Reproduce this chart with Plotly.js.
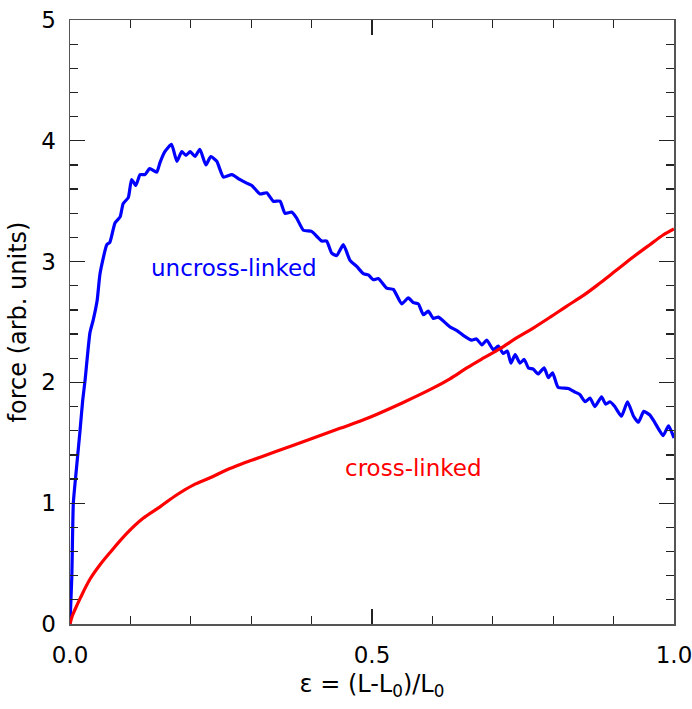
<!DOCTYPE html>
<html>
<head>
<meta charset="utf-8">
<script src="https://cdn.plot.ly/plotly-3.0.1.min.js"></script>
<style>html,body{margin:0;padding:0;background:#fff;}#chart{width:692px;height:709px;}</style>
</head>
<body>
<div id="chart"></div>
<script>
// uncross-linked (blue)
var uncrossStrain = [0, 0.003, 0.0055, 0.0094, 0.0166, 0.021, 0.025, 0.033, 0.0386, 0.045, 0.0497, 0.061, 0.066, 0.0745, 0.083, 0.088, 0.0965, 0.102, 0.109, 0.116, 0.124, 0.132, 0.1435, 0.149, 0.157, 0.168, 0.177, 0.185, 0.192, 0.199, 0.207, 0.215, 0.225, 0.233, 0.243, 0.254, 0.268, 0.281, 0.2925, 0.301, 0.3146, 0.3257, 0.3366, 0.3477, 0.356, 0.367, 0.3753, 0.3863, 0.400, 0.4084, 0.4167, 0.425, 0.4333, 0.4416, 0.4525, 0.4636, 0.4747, 0.4856, 0.4939, 0.5022, 0.5104, 0.5243, 0.5353, 0.5492, 0.5601, 0.5684, 0.5767, 0.585, 0.5932, 0.6015, 0.6098, 0.629, 0.640, 0.651, 0.665, 0.673, 0.682, 0.690, 0.701, 0.709, 0.717, 0.724, 0.730, 0.737, 0.745, 0.752, 0.759, 0.767, 0.775, 0.785, 0.792, 0.799, 0.808, 0.825, 0.836, 0.844, 0.853, 0.861, 0.869, 0.880, 0.887, 0.894, 0.902, 0.913, 0.923, 0.933, 0.941, 0.950, 0.960, 0.968, 0.982, 0.991, 1.0];
var uncrossForce = [0, 0.39, 1.0, 1.22, 1.6, 1.85, 2.02, 2.41, 2.52, 2.68, 2.9, 3.14, 3.16, 3.32, 3.37, 3.48, 3.53, 3.68, 3.63, 3.72, 3.72, 3.77, 3.74, 3.82, 3.91, 3.97, 3.83, 3.91, 3.88, 3.91, 3.87, 3.93, 3.80, 3.87, 3.83, 3.70, 3.72, 3.68, 3.65, 3.63, 3.56, 3.57, 3.50, 3.50, 3.40, 3.41, 3.36, 3.26, 3.25, 3.21, 3.17, 3.17, 3.07, 3.05, 3.14, 3.01, 2.96, 2.90, 2.89, 2.85, 2.86, 2.78, 2.77, 2.65, 2.70, 2.66, 2.65, 2.56, 2.59, 2.53, 2.54, 2.46, 2.43, 2.39, 2.35, 2.36, 2.31, 2.35, 2.27, 2.30, 2.24, 2.26, 2.16, 2.23, 2.16, 2.19, 2.12, 2.11, 2.07, 2.12, 2.04, 2.08, 1.96, 1.95, 1.92, 1.90, 1.84, 1.87, 1.80, 1.88, 1.82, 1.84, 1.80, 1.72, 1.84, 1.72, 1.67, 1.76, 1.73, 1.67, 1.56, 1.64, 1.54];
// cross-linked (red)
var crossStrain = [0, 0.004, 0.0083, 0.0166, 0.033, 0.0497, 0.066, 0.094, 0.121, 0.149, 0.177, 0.204, 0.232, 0.259, 0.287, 0.315, 0.342, 0.370, 0.403, 0.447, 0.486, 0.55, 0.60, 0.629, 0.657, 0.684, 0.712, 0.740, 0.767, 0.795, 0.822, 0.850, 0.877, 0.905, 0.933, 0.960, 0.982, 1.0];
var crossForce = [0, 0.07, 0.12, 0.21, 0.37, 0.49, 0.59, 0.75, 0.875, 0.97, 1.07, 1.15, 1.21, 1.275, 1.33, 1.38, 1.43, 1.48, 1.54, 1.62, 1.69, 1.83, 1.95, 2.03, 2.12, 2.20, 2.28, 2.37, 2.45, 2.54, 2.63, 2.72, 2.82, 2.93, 3.04, 3.14, 3.22, 3.27];

var labelNames = ["uncross-linked", "cross-linked"];
var labelX = [0.272, 0.568];
var labelY = [2.95, 1.29];
var xTitle = "ε = (L-L<sub>0</sub>)/L<sub>0</sub>";
var yTitle = "force (arb. units)";

var FONT = "DejaVu Sans, sans-serif";
var traces = [
  {x: uncrossStrain, y: uncrossForce, mode: "lines", line: {color: "#0000ff", width: 3.2, shape: "spline", smoothing: 0.5}, name: labelNames[0], showlegend: false},
  {x: crossStrain, y: crossForce, mode: "lines", line: {color: "#ff0000", width: 3.2, shape: "spline", smoothing: 1}, name: labelNames[1], showlegend: false}
];
var axisCommon = {
  showgrid: false, zeroline: false, showline: true, linecolor: "#555", linewidth: 1.5,
  mirror: "allticks", ticks: "inside", tickcolor: "#222", tickwidth: 1.3,
  tickfont: {family: FONT, size: 23, color: "#000"}
};
var layout = {
  width: 692, height: 709,
  margin: {l: 70, r: 18, t: 20, b: 85},
  paper_bgcolor: "#fff", plot_bgcolor: "#fff",
  xaxis: Object.assign({}, axisCommon, {
    range: [0, 1], tickvals: [0, 0.5, 1], ticktext: ["0.0", "0.5", "1.0"], ticklen: 15,
    ticklabelstandoff: 10, ticklabeloverflow: "allow",
    minor: {dtick: 0.1, tick0: 0, ticks: "inside", ticklen: 8, tickcolor: "#222", tickwidth: 1.3},
    title: {text: xTitle, font: {family: FONT, size: 24, color: "#000"}, standoff: 8}
  }),
  yaxis: Object.assign({}, axisCommon, {
    range: [0, 5], dtick: 1, tick0: 0, ticklen: 15,
    ticklabelstandoff: 8, ticklabeloverflow: "allow",
    minor: {dtick: 0.2, tick0: 0, ticks: "inside", ticklen: 8, tickcolor: "#222", tickwidth: 1.3},
    title: {text: yTitle, font: {family: FONT, size: 24, color: "#000"}, standoff: 8}
  }),
  annotations: [
    {x: labelX[0], y: labelY[0], text: labelNames[0], showarrow: false, font: {family: FONT, size: 23, color: "#0000ff"}},
    {x: labelX[1], y: labelY[1], text: labelNames[1], showarrow: false, font: {family: FONT, size: 23, color: "#ff0000"}}
  ]
};
Plotly.newPlot("chart", traces, layout, {displayModeBar: false, staticPlot: true});
</script>
</body>
</html>
